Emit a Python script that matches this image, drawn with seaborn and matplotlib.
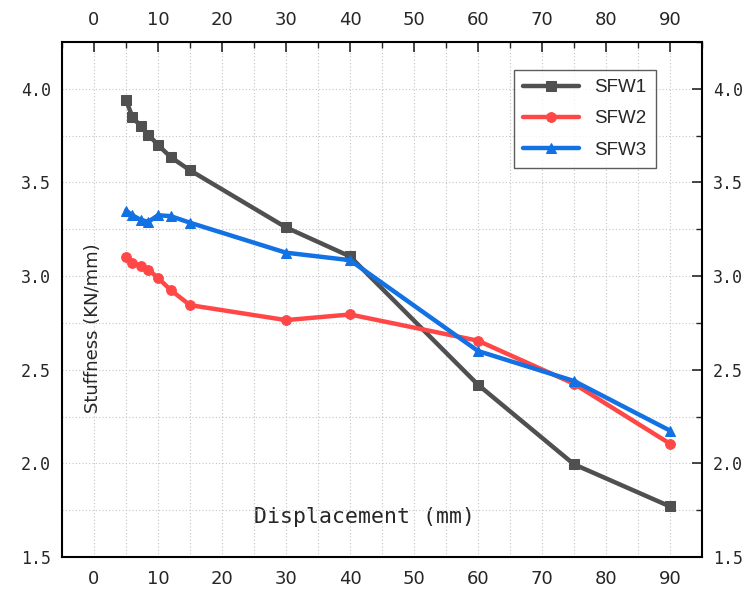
import matplotlib
matplotlib.use("Agg")
import matplotlib.pyplot as plt
import seaborn as sns
import pandas as pd
from matplotlib.ticker import MultipleLocator

# displacement (mm) at each loading step
disp = [5, 6, 7.3, 8.5, 10, 12, 15, 30, 40, 60, 75, 90]

# stiffness (KN/mm) per specimen
sfw1 = [3.94, 3.85, 3.80, 3.755, 3.70, 3.635, 3.565, 3.26, 3.105, 2.42, 1.995, 1.77]
sfw2 = [3.10, 3.07, 3.055, 3.035, 2.99, 2.925, 2.845, 2.765, 2.795, 2.655, 2.425, 2.105]
sfw3 = [3.35, 3.325, 3.30, 3.29, 3.325, 3.32, 3.285, 3.125, 3.085, 2.60, 2.44, 2.175]

names = ["SFW1", "SFW2", "SFW3"]
colors = ["#505050", "#FF4747", "#1271E3"]
markers = ["s", "o", "^"]

sns.set_style("white")
fig = plt.figure(figsize=(7.46, 5.89), dpi=100)
ax = fig.add_axes([0.0831, 0.0543, 0.8579, 0.8744])

for name, vals, c, m in zip(names, [sfw1, sfw2, sfw3], colors, markers):
    df = pd.DataFrame({"x": disp, "y": vals})
    sns.lineplot(data=df, x="x", y="y", ax=ax, color=c, marker=m, markersize=7,
                 markeredgecolor=c, linewidth=3.2, label=name)

ax.set_xlim(-5, 95)
ax.set_ylim(1.5, 4.25)
ax.xaxis.set_major_locator(MultipleLocator(10))
ax.xaxis.set_minor_locator(MultipleLocator(5))
ax.yaxis.set_major_locator(MultipleLocator(0.5))
ax.yaxis.set_minor_locator(MultipleLocator(0.25))

ax.grid(True, which="both", linestyle=(0, (1, 2)), color="#C4C4C4", linewidth=0.8)
ax.tick_params(which="both", direction="in", top=True, right=True,
               labeltop=True, labelright=True)
ax.tick_params(which="major", length=7, width=1.2)
ax.tick_params(which="minor", length=4, width=1.0)
ax.tick_params(axis="x", which="major", pad=9)
ax.tick_params(axis="y", which="major", pad=8)

for lab in ax.get_xticklabels():
    lab.set_family("DejaVu Sans")
    lab.set_fontsize(13)
for lab in ax.get_yticklabels():
    lab.set_family("DejaVu Sans Mono")
    lab.set_fontsize(12)

for s in ax.spines.values():
    s.set_linewidth(1.5)
    s.set_color("black")

ax.set_xlabel("Displacement (mm)", fontsize=15.5, family="DejaVu Sans Mono")
ax.set_ylabel("Stuffness (KN/mm)", fontsize=13, family="DejaVu Sans")
ax.xaxis.set_label_coords(0.473, 0.098)
ax.yaxis.set_label_coords(0.062, 0.445)

leg = ax.legend(loc="upper right", bbox_to_anchor=(0.928, 0.946), fontsize=13.5,
                frameon=True, fancybox=False, edgecolor="#333333",
                handlelength=3.0, handletextpad=0.8, borderpad=0.5,
                borderaxespad=0, labelspacing=0.75)
leg.get_frame().set_linewidth(1.0)
for t in leg.get_texts():
    t.set_family("Liberation Sans")

fig.savefig("out.png", dpi=100)
